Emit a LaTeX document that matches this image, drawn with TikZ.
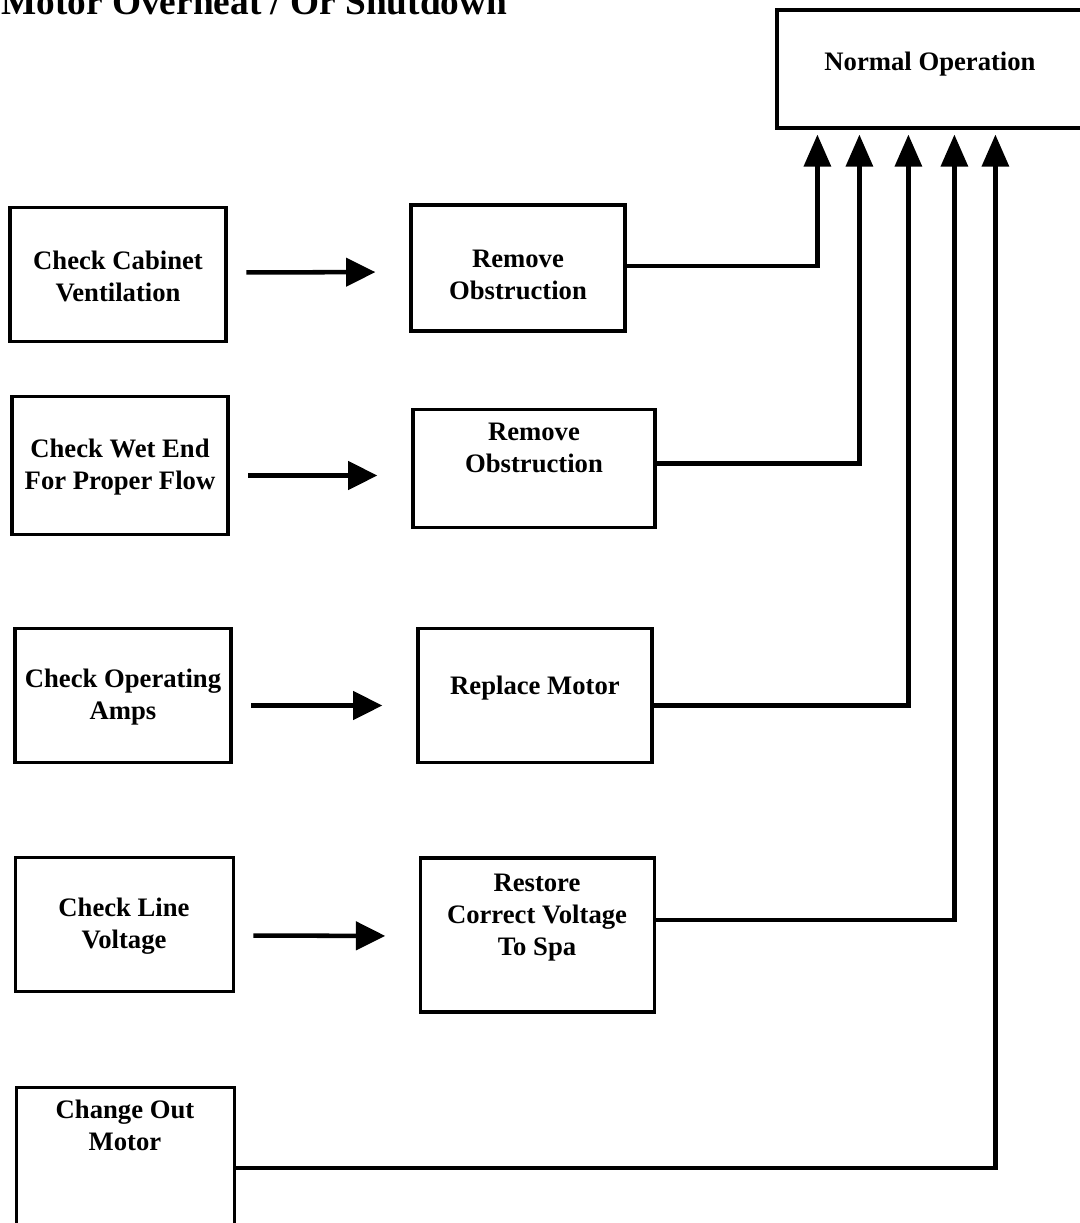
\documentclass[tikz,border=0pt]{standalone}
\usepackage{fontspec}
\setmainfont{Liberation Serif}
\usetikzlibrary{arrows.meta,calc}
\begin{document}
\begin{tikzpicture}[x=0.75pt,y=-0.75pt,
  box/.style={draw,line width=2.4pt,inner sep=0pt},
  txt/.style={inner sep=0pt,align=center,font=\bfseries\fontsize{20}{24}\selectfont},
  conn/.style={line width=3.2pt,-{Triangle[length=24pt,width=20pt]}},
  harrow/.style={line width=3.4pt,-{Triangle[length=22pt,width=21pt]},shorten <=14pt,shorten >=25.5pt}]
\useasboundingbox (0,0) rectangle (1079,1223);
% title
\node[anchor=base west,inner sep=0pt,font=\bfseries\fontsize{28}{32}\selectfont] (title) at (1,15) {Motor Overheat / Or Shutdown};
% boxes
\node[box,minimum width=162pt,minimum height=101pt] (b1) at (118,274.5) {};
\node[box,minimum width=160.5pt,minimum height=94.5pt] (r1) at (518,268) {};
\node[box,minimum width=162pt,minimum height=103pt] (b3) at (120,465.5) {};
\node[box,minimum width=181.5pt,minimum height=88pt] (r2) at (534,468.5) {};
\node[box,minimum width=162pt,minimum height=101pt] (b5) at (123,695.5) {};
\node[box,minimum width=175.5pt,minimum height=101pt] (b6) at (535,695.5) {};
\node[box,minimum width=163pt,minimum height=101pt] (b7) at (124.5,924.5) {};
\node[box,minimum width=175pt,minimum height=115.5pt] (b8) at (537.5,935) {};
\node[box,minimum width=163pt,minimum height=103pt] (b9) at (125.5,1156) {};
\node[box,minimum width=231pt,minimum height=88.5pt] (no) at (931,69) {};
% texts
\node[txt] (tb1) at (118,276) {Check Cabinet\\Ventilation};
\node[txt] (tr1) at (518,275) {Remove\\Obstruction};
\node[txt] (tb3) at (120,467) {Check Wet End\\For Proper Flow};
\node[txt] (tr2) at (534,448) {Remove\\Obstruction};
\node[txt] (tb5) at (123,697) {Check Operating\\Amps};
\node[txt] (tb6) at (535,688) {Replace Motor};
\node[txt] (tb7) at (124,926) {Check Line\\Voltage};
\node[txt] (tb8) at (537,918) {Restore\\Correct Voltage\\To Spa};
\node[txt] (tb9) at (125,1125) {Change Out\\Motor};
\node[txt] (tno) at (930,64) {Normal Operation};
% horizontal arrows
\draw[harrow] ($(b1.east)+(0,-2)$) -- ($(r1.west)+(0,4)$);
\draw[harrow] ($(b3.east)+(0,10)$) -- ($(r2.west)+(0,7)$);
\draw[harrow] ($(b5.east)+(0,10)$) -- ($(b6.west)+(0,10)$);
\draw[harrow] ($(b7.east)+(0,11)$) -- ($(b8.west)+(0,1)$);
% connectors to Normal Operation
\coordinate (t1) at ($(no.south west)+(42,5)$);
\coordinate (t2) at ($(no.south west)+(84,5)$);
\coordinate (t3) at ($(no.south west)+(133,5)$);
\coordinate (t4) at ($(no.south west)+(179,5)$);
\coordinate (t5) at ($(no.south west)+(220,5)$);
\draw[conn] ($(r1.east)+(0,-2)$) -| (t1);
\draw[conn] ($(r2.east)+(0,-5)$) -| (t2);
\draw[conn] ($(b6.east)+(0,10)$) -| (t3);
\draw[conn] ($(b8.east)+(0,-15)$) -| (t4);
\draw[conn] ($(b9.east)+(0,12)$) -| (t5);
\end{tikzpicture}
\end{document}
